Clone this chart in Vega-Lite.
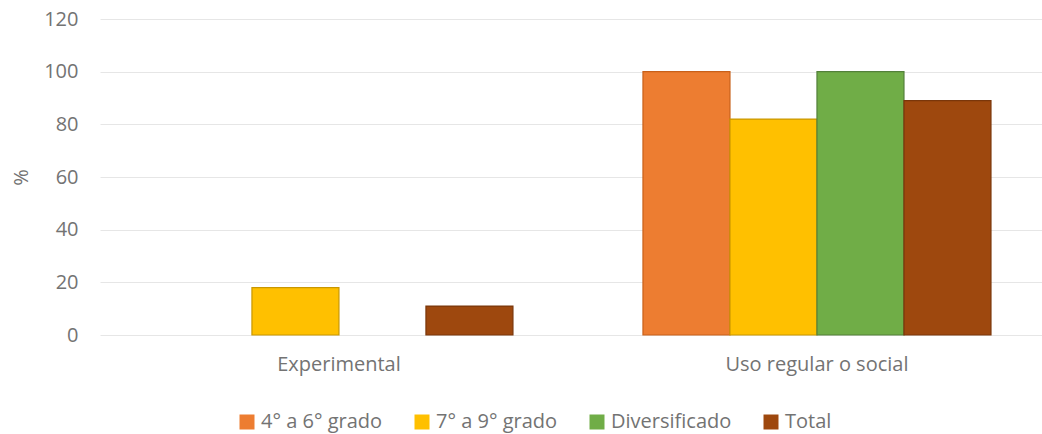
{
  "$schema": "https://vega.github.io/schema/vega-lite/v6.json",
  "autosize": "none",
  "width": 942,
  "height": 316,
  "padding": {"left": 100, "top": 19, "right": 0, "bottom": 99},
  "background": "white",
  "config": {
    "view": {"stroke": null},
    "font": "Open Sans",
    "axis": {"labelColor": "#737373", "titleColor": "#737373", "labelFontSize": 20, "titleFontSize": 20, "titleFontWeight": "normal"}
  },
  "data": {
    "values": [
      {"uso": "Experimental", "grupo": "4° a 6° grado", "valor": 0},
      {"uso": "Experimental", "grupo": "7° a 9° grado", "valor": 18},
      {"uso": "Experimental", "grupo": "Diversificado", "valor": 0},
      {"uso": "Experimental", "grupo": "Total", "valor": 11},
      {"uso": "Uso regular o social", "grupo": "4° a 6° grado", "valor": 100},
      {"uso": "Uso regular o social", "grupo": "7° a 9° grado", "valor": 82},
      {"uso": "Uso regular o social", "grupo": "Diversificado", "valor": 100},
      {"uso": "Uso regular o social", "grupo": "Total", "valor": 89}
    ]
  },
  "mark": {"type": "bar"},
  "encoding": {
    "x": {
      "field": "uso", "type": "nominal", "title": null,
      "scale": {"paddingInner": 0.272, "paddingOuter": 0.1213, "align": 0.56},
      "axis": {"labelAngle": 0, "domain": false, "ticks": false, "labelPadding": 19, "labelLimit": 0}
    },
    "xOffset": {"field": "grupo", "type": "nominal", "sort": ["4° a 6° grado", "7° a 9° grado", "Diversificado", "Total"]},
    "y": {
      "field": "valor", "type": "quantitative", "title": "%",
      "scale": {"domain": [0, 120]},
      "axis": {"values": [0, 20, 40, 60, 80, 100, 120], "domain": false, "ticks": false, "labelPadding": 22, "gridColor": "#E6E6E6", "titlePadding": 12}
    },
    "color": {
      "field": "grupo", "type": "nominal", "title": null,
      "sort": ["4° a 6° grado", "7° a 9° grado", "Diversificado", "Total"],
      "scale": {"range": ["#ED7D31", "#FFC000", "#70AD47", "#9E480E"]},
      "legend": {"orient": "none", "legendX": 137, "legendY": 393, "direction": "horizontal", "labelFontSize": 20, "labelColor": "#737373", "labelLimit": 0, "symbolType": "square", "symbolSize": 225, "columnPadding": 29, "labelOffset": 4}
    },
    "stroke": {
      "field": "grupo", "type": "nominal",
      "sort": ["4° a 6° grado", "7° a 9° grado", "Diversificado", "Total"],
      "scale": {"range": ["#C8601A", "#C99700", "#53803A", "#7A360A"]},
      "legend": null
    },
    "strokeWidth": {"condition": {"test": "datum.valor > 0", "value": 1.2}, "value": 0}
  }
}
